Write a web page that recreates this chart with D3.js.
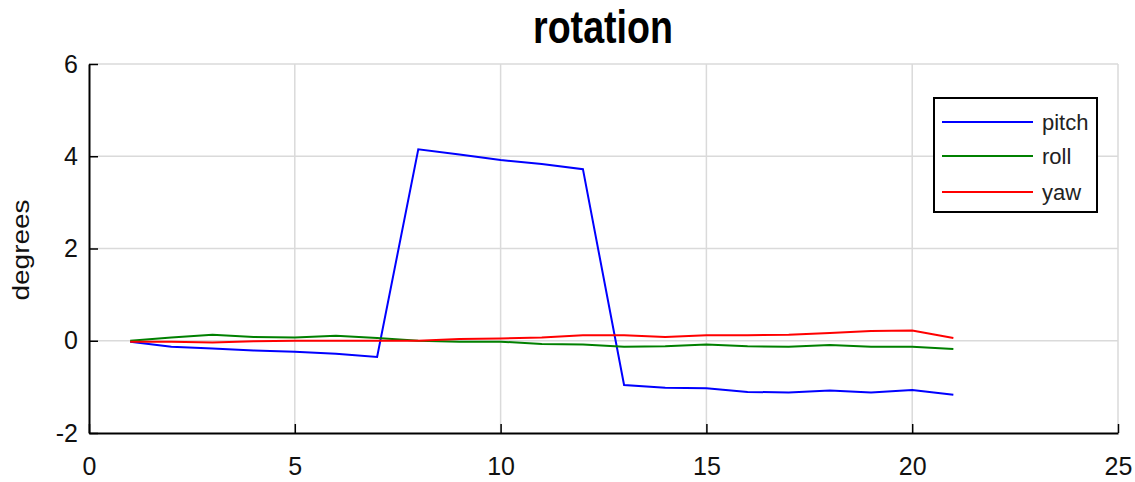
<!DOCTYPE html>
<html lang="en">
<head>
  <meta charset="UTF-8">
  <script src="https://d3js.org/d3.v7.min.js"></script>
  <title>rotation</title>
  <style>
    body { margin: 0; background: #fff; }
    text { font-family: "Liberation Sans", Arial, sans-serif; }
  </style>
</head>
<body>
<script>
  /*
    Data
  */
  const xs    = [1, 2, 3, 4, 5, 6, 7, 8, 9, 10, 11, 12, 13, 14, 15, 16, 17, 18, 19, 20, 21]
  const pitch = [-0.02, -0.13, -0.17, -0.21, -0.24, -0.28, -0.35, 4.15, 4.04, 3.92, 3.83, 3.72,
                 -0.96, -1.02, -1.03, -1.11, -1.12, -1.08, -1.12, -1.07, -1.17]
  const roll  = [0.0, 0.07, 0.13, 0.08, 0.07, 0.11, 0.06, 0.0, -0.02, -0.02, -0.07, -0.08,
                 -0.13, -0.12, -0.08, -0.12, -0.13, -0.09, -0.13, -0.13, -0.18]
  const yaw   = [-0.02, -0.02, -0.04, -0.01, 0.0, 0.0, 0.0, 0.0, 0.04, 0.05, 0.07, 0.12,
                 0.12, 0.08, 0.12, 0.12, 0.13, 0.17, 0.21, 0.22, 0.06]
  const seriesNames = ["pitch", "roll", "yaw"]
  const seriesColors = ["#0000ff", "#008000", "#ff0000"]
  const xTicks = [0, 5, 10, 15, 20, 25]
  const yTicks = [-2, 0, 2, 4, 6]

  /*
    Constants
  */
  const width = 1135
  const height = 482
  const plotLeft = 89, plotRight = 1118, plotTop = 64, plotBottom = 433

  let svg = d3.select("body").append("svg")
              .attr("width", width)
              .attr("height", height)

  let x = d3.scaleLinear().domain([0, 25]).range([plotLeft, plotRight])
  let y = d3.scaleLinear().domain([-2, 6]).range([plotBottom, plotTop])

  // grid
  svg.append("g").selectAll("line")
     .data(xTicks.filter(d => d > 0))
     .enter().append("line")
     .attr("x1", x).attr("x2", x)
     .attr("y1", plotTop).attr("y2", plotBottom)
     .style("stroke", "#dadada").style("stroke-width", 1.5)
  svg.append("g").selectAll("line")
     .data(yTicks.filter(d => d > -2))
     .enter().append("line")
     .attr("x1", plotLeft).attr("x2", plotRight)
     .attr("y1", y).attr("y2", y)
     .style("stroke", "#dadada").style("stroke-width", 1.5)

  // axes, ticks pointing inward, plain hyphen for negatives
  const plain = d => String(d)
  let xAxis = svg.append("g")
     .attr("transform", `translate(0,${plotBottom})`)
     .call(d3.axisBottom(x).tickValues(xTicks).tickFormat(plain)
             .tickSizeInner(-9).tickSizeOuter(0).tickPadding(24))
  let yAxis = svg.append("g")
     .attr("transform", `translate(${plotLeft},0)`)
     .call(d3.axisLeft(y).tickValues(yTicks).tickFormat(plain)
             .tickSizeInner(-9).tickSizeOuter(0).tickPadding(11))

  for (let ax of [xAxis, yAxis]) {
    ax.select(".domain").style("stroke", "#000").style("stroke-width", 2)
    ax.selectAll(".tick line").style("stroke", "#000").style("stroke-width", 1.5)
    ax.selectAll(".tick text")
      .style("font-family", "'Liberation Sans', Arial, sans-serif")
      .style("font-size", "25px").style("fill", "#111")
  }

  // lines
  const allSeries = [pitch, roll, yaw]
  let line = d3.line().x((d, i) => x(xs[i])).y(d => y(d))
  allSeries.forEach(function(s, k){
    svg.append("path")
       .datum(s)
       .attr("d", line)
       .style("fill", "none")
       .style("stroke", seriesColors[k])
       .style("stroke-width", 2)
  })

  // title
  svg.append("text")
     .attr("x", 603).attr("y", 43)
     .attr("text-anchor", "middle")
     .attr("textLength", 140)
     .attr("lengthAdjust", "spacingAndGlyphs")
     .style("font-size", "46px").style("font-weight", "bold")
     .text("rotation")

  // y label (slightly condensed like the reference)
  svg.append("text")
     .attr("transform", "translate(29,250) rotate(-90) scale(1,0.85)")
     .attr("text-anchor", "middle")
     .style("font-size", "28px").style("fill", "#111")
     .text("degrees")

  // legend
  let lg = svg.append("g")
  lg.append("rect")
    .attr("x", 934).attr("y", 98).attr("width", 163).attr("height", 114)
    .style("fill", "#fff").style("stroke", "#000").style("stroke-width", 2)
  const legendY = [122, 156, 192]
  seriesNames.forEach(function(name, k){
    lg.append("line")
      .attr("x1", 942).attr("x2", 1033)
      .attr("y1", legendY[k]).attr("y2", legendY[k])
      .style("stroke", seriesColors[k]).style("stroke-width", 2)
    lg.append("text")
      .attr("x", 1042).attr("y", legendY[k]).attr("dy", "0.35em")
      .style("font-size", "22px").style("fill", "#222")
      .text(name)
  })
</script>
</body>
</html>
